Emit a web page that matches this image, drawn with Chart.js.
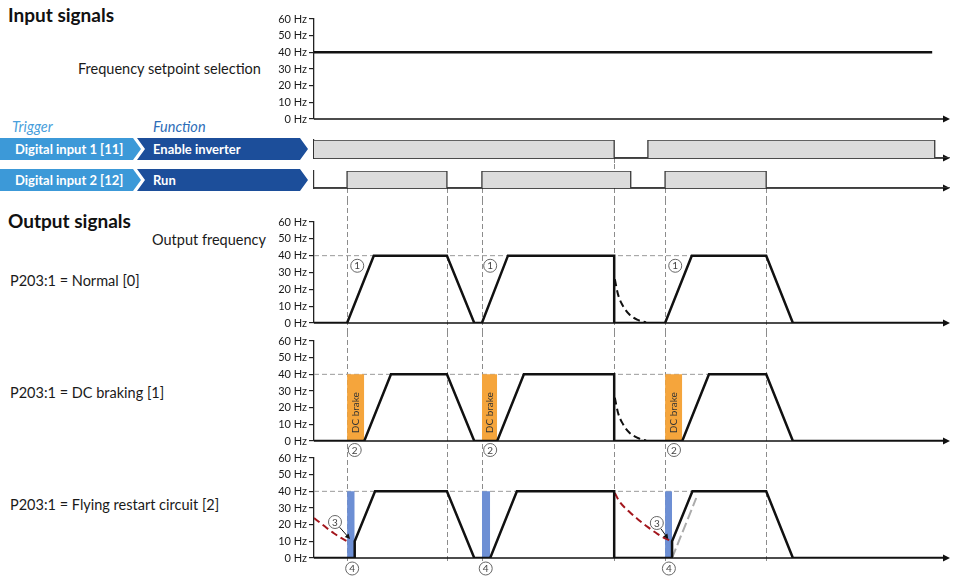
<!DOCTYPE html>
<html>
<head>
<meta charset="utf-8">
<script src="https://cdn.jsdelivr.net/npm/chart.js@4.4.0/dist/chart.umd.min.js"></script>
<style>
body { margin: 0; background: #fff; width: 954px; height: 578px; overflow: hidden; position: relative; font-family: Lato, "Open Sans", sans-serif; }
canvas { position: absolute; left: 0; }
.lbl { position: absolute; white-space: nowrap; color: #1a1a1a; font-size: 14.5px; line-height: 1; transform: translateY(-50%); }
.head { font-weight: bold; font-size: 19px; color: #111; }
.it { font-style: italic; font-size: 14.5px; }
.chev { position: absolute; height: 22px; line-height: 22px; color: #fff; font-weight: bold; font-size: 13px; box-sizing: border-box; white-space: nowrap; }
.light { left: 0; width: 141px; padding-left: 15px; background: #3c99d8; clip-path: polygon(0 0, 133px 0, 141px 11px, 133px 22px, 0 22px); }
.dark { left: 137px; width: 171px; padding-left: 16px; background: #1c4e9a; clip-path: polygon(0 0, 163px 0, 171px 11px, 163px 22px, 0 22px, 8px 11px); }
</style>
</head>
<body>
<div class="lbl head" style="left:8px;top:14px">Input signals</div>
<div class="lbl" style="left:78px;top:69px">Frequency setpoint selection</div>
<div class="lbl it" style="left:12px;top:127px;color:#4a9fdc">Trigger</div>
<div class="lbl it" style="left:153px;top:127px;color:#2d6db8">Function</div>
<div class="chev light" style="top:138px">Digital input 1 [11]</div>
<div class="chev dark" style="top:138px">Enable inverter</div>
<div class="chev light" style="top:169px">Digital input 2 [12]</div>
<div class="chev dark" style="top:169px">Run</div>
<div class="lbl head" style="left:8px;top:220px">Output signals</div>
<div class="lbl" style="left:152px;top:240px">Output frequency</div>
<div class="lbl" style="left:10px;top:281px">P203:1 = Normal [0]</div>
<div class="lbl" style="left:10px;top:393px">P203:1 = DC braking [1]</div>
<div class="lbl" style="left:10px;top:505px">P203:1 = Flying restart circuit [2]</div>

<canvas id="setpoint"></canvas>
<canvas id="di1"></canvas>
<canvas id="di2"></canvas>
<canvas id="normal"></canvas>
<canvas id="dcbrake"></canvas>
<canvas id="flying"></canvas>

<script>
// time runs 0..100 across the plots
const eventTimes = [5.2, 20.9, 26.4, 47.2, 55.2, 71.1];
const enableOffTimes = [47.2];
const hzTickLabels = ['0 Hz', '10 Hz', '20 Hz', '30 Hz', '40 Hz', '50 Hz', '60 Hz'];

const setpointTime = [0, 97.2];
const setpointHz = [40, 40];

const di1Time = [0, 47.2, 52.5, 97.6, 100];
const di1Level = [1, 0, 1, 0, 0];
const di2Time = [0, 5.2, 20.9, 26.4, 49.8, 55.2, 71.1, 100];
const di2Level = [0, 1, 0, 1, 0, 1, 0, 0];

const normalTime = [0, 5.2, 9.4, 20.9, 25.2, 26.4, 30.5, 47.2, 47.2, 55.2, 59.4, 71.1, 75.3, 99.2];
const normalHz = [0, 0, 40, 40, 0, 0, 40, 40, 0, 0, 40, 40, 0, 0];
const coastTime = [47.3, 47.8, 48.6, 49.6, 50.8, 52.2];
const coastHz = [26, 17, 10, 5, 2, 0.3];

const dcTime = [0, 7.9, 12.1, 20.9, 25.2, 28.8, 33.0, 47.2, 47.2, 57.9, 62.1, 71.1, 75.3, 99.2];
const dcHz = [0, 0, 40, 40, 0, 0, 40, 40, 0, 0, 40, 40, 0, 0];
const dcBrakeStart = [5.2, 26.4, 55.2];
const dcBrakeEnd = [7.9, 28.8, 57.9];

const flyTime = [0, 6.4, 6.4, 9.6, 20.9, 25.2, 27.7, 31.9, 47.2, 47.2, 56.3, 56.3, 59.5, 71.1, 75.3, 99.2];
const flyHz = [0, 0, 10, 40, 40, 0, 0, 40, 40, 0, 0, 10, 40, 40, 0, 0];
const searchStart = [5.2, 26.4, 55.2];
const searchEnd = [6.4, 27.7, 56.3];
const motorTime1 = [0, 1, 2, 3, 4, 5.1];
const motorHz1 = [24, 21, 18, 15.2, 12.6, 10.3];
const motorTime2 = [47.3, 48, 49.5, 51, 52.5, 54, 55.2, 56.3];
const motorHz2 = [39, 34, 28, 23, 18.5, 14.5, 11.8, 10];
const rampRefTime = [56.3, 60.1];
const rampRefHz = [0, 36];

const brakeHz = 40;
const ref40End = [59.4, 62.1, 59.5];

const mark1Time = [6.8, 27.7, 56.8];
const mark1Hz = [34, 34, 34];
const mark2Time = [6.4, 27.7, 56.6];
const mark2Hz = [-5.4, -5.4, -5.4];
const mark3Time = [3.3, 53.9];
const mark3Hz = [21.6, 21];
const arrow3Time = [5.66, 55.7];
const arrow3Hz = [11.4, 11.4];
const mark4Time = [6.0, 27.0, 55.8];
const mark4Hz = [-6.3, -6.3, -6.3];

Chart.defaults.font.family = 'Lato, "Open Sans", sans-serif';

function pts(xs, ys) {
    return xs.map((t, i) => ({ x: t, y: ys[i] }));
}

function curve(xs, ys, style) {
    return Object.assign({
        data: pts(xs, ys),
        borderColor: '#111',
        borderWidth: 2.5,
        pointRadius: 0,
        tension: 0,
        fill: false,
        order: 0
    }, style);
}

function blocks(starts, ends, color) {
    return starts.map((s, i) => curve([s, ends[i]], [brakeHz, brakeHz], {
        fill: 'origin',
        backgroundColor: color,
        borderColor: 'rgba(0,0,0,0)',
        borderWidth: 0,
        order: 3
    }));
}

function drawCircle(ctx, x, y, label) {
    ctx.save();
    ctx.beginPath();
    ctx.arc(x, y, 6.5, 0, Math.PI * 2);
    ctx.fillStyle = '#fff';
    ctx.fill();
    ctx.strokeStyle = '#666';
    ctx.lineWidth = 1;
    ctx.stroke();
    ctx.fillStyle = '#444';
    ctx.font = '10px Lato, sans-serif';
    ctx.textAlign = 'center';
    ctx.textBaseline = 'middle';
    ctx.fillText(label, x, y + 0.5);
    ctx.restore();
}

function timingPlugin(cfg) {
    return {
        id: 'timing',
        beforeDatasetsDraw(chart) {
            const { ctx, chartArea } = chart;
            const x = chart.scales.x, y = chart.scales.y;
            ctx.save();
            ctx.strokeStyle = '#8c8c8c';
            ctx.lineWidth = 1;
            ctx.setLineDash([5, 3]);
            eventTimes.forEach(t => {
                const start = enableOffTimes.includes(t) ? 158 : 188;
                const y0 = Math.max(start, cfg.own[0]) - cfg.top;
                const y1 = Math.min(562, cfg.own[1]) - cfg.top;
                if (y1 <= y0) return;
                const px = Math.round(x.getPixelForValue(t)) + 0.5;
                ctx.beginPath();
                ctx.moveTo(px, y0);
                ctx.lineTo(px, y1);
                ctx.stroke();
            });
            ctx.restore();

            // time axis with arrow head
            const base = y.getPixelForValue(0);
            ctx.save();
            ctx.strokeStyle = '#111';
            ctx.fillStyle = '#111';
            ctx.lineWidth = 1.3;
            ctx.beginPath();
            ctx.moveTo(chartArea.left, base);
            ctx.lineTo(chartArea.right - 5, base);
            ctx.stroke();
            ctx.beginPath();
            ctx.moveTo(chartArea.right, base);
            ctx.lineTo(chartArea.right - 7, base - 3.5);
            ctx.lineTo(chartArea.right - 7, base + 3.5);
            ctx.closePath();
            ctx.fill();
            ctx.restore();
        },
        afterDatasetsDraw(chart) {
            const { ctx } = chart;
            const x = chart.scales.x, y = chart.scales.y;
            if (cfg.brakeText) {
                ctx.save();
                ctx.fillStyle = '#333';
                ctx.font = '10px Lato, sans-serif';
                ctx.textAlign = 'center';
                ctx.textBaseline = 'middle';
                dcBrakeStart.forEach((s, i) => {
                    const cx = (x.getPixelForValue(s) + x.getPixelForValue(dcBrakeEnd[i])) / 2;
                    ctx.save();
                    ctx.translate(cx + 0.5, y.getPixelForValue(17));
                    ctx.rotate(-Math.PI / 2);
                    ctx.fillText(cfg.brakeText, 0, 0);
                    ctx.restore();
                });
                ctx.restore();
            }
            (cfg.arrows || []).forEach(a => {
                a.from.forEach((t, i) => {
                    const x0 = x.getPixelForValue(t), y0 = y.getPixelForValue(a.fromHz[i]);
                    const x1 = x.getPixelForValue(a.to[i]), y1 = y.getPixelForValue(a.toHz[i]);
                    const len = Math.hypot(x1 - x0, y1 - y0);
                    const ux = (x1 - x0) / len, uy = (y1 - y0) / len;
                    ctx.save();
                    ctx.strokeStyle = '#111';
                    ctx.fillStyle = '#111';
                    ctx.lineWidth = 1;
                    ctx.beginPath();
                    ctx.moveTo(x0 + ux * 7, y0 + uy * 7);
                    ctx.lineTo(x1 - ux * 3, y1 - uy * 3);
                    ctx.stroke();
                    ctx.beginPath();
                    ctx.moveTo(x1, y1);
                    ctx.lineTo(x1 - ux * 5 - uy * 2.5, y1 - uy * 5 + ux * 2.5);
                    ctx.lineTo(x1 - ux * 5 + uy * 2.5, y1 - uy * 5 - ux * 2.5);
                    ctx.closePath();
                    ctx.fill();
                    ctx.restore();
                });
            });
            (cfg.marks || []).forEach(m => {
                m.time.forEach((t, i) => {
                    drawCircle(ctx, x.getPixelForValue(t), y.getPixelForValue(m.hz[i]), m.label);
                });
            });
        }
    };
}

function makePanel(id, cfg, datasets) {
    const canvas = document.getElementById(id);
    canvas.width = 954;
    canvas.height = cfg.height;
    canvas.style.top = cfg.top + 'px';
    canvas.style.width = '954px';
    canvas.style.height = cfg.height + 'px';
    const yScale = cfg.digital ? {
        min: 0,
        max: 1,
        afterFit: s => { s.width = 314; },
        border: { display: true, color: '#333', width: 1.2 },
        grid: { display: false },
        ticks: { display: false }
    } : {
        min: 0,
        max: 60,
        afterFit: s => { s.width = 314; },
        border: { display: true, color: '#222', width: 1.3 },
        grid: { display: true, drawOnChartArea: false, drawTicks: true, tickLength: 5, color: '#222', lineWidth: 1.2 },
        ticks: {
            stepSize: 10,
            padding: 2,
            color: '#1a1a1a',
            font: { size: 11 },
            callback: (v, i) => hzTickLabels[i]
        }
    };
    return new Chart(canvas, {
        type: 'line',
        data: { datasets: datasets },
        options: {
            responsive: false,
            animation: false,
            devicePixelRatio: 1,
            layout: {
                padding: {
                    top: cfg.areaTop - cfg.top,
                    bottom: cfg.top + cfg.height - cfg.areaBottom,
                    left: 0,
                    right: 4
                }
            },
            plugins: {
                legend: { display: false },
                tooltip: { enabled: false }
            },
            scales: {
                x: { type: 'linear', min: 0, max: 100, display: false },
                y: yScale
            }
        },
        plugins: [timingPlugin(cfg)]
    });
}

function refLine(end) {
    return curve([0, end], [40, 40], { borderColor: '#9a9a9a', borderWidth: 1, borderDash: [5, 3], order: 4 });
}

makePanel('setpoint', { top: 0, height: 130, areaTop: 19, areaBottom: 119, own: [0, 130] }, [
    curve(setpointTime, setpointHz, {})
]);

makePanel('di1', { top: 130, height: 34, areaTop: 140, areaBottom: 158, own: [130, 164], digital: true }, [
    curve(di1Time, di1Level, { stepped: true, fill: 'origin', backgroundColor: '#dcdcdc', borderColor: '#3a3a3a', borderWidth: 1.3 })
]);

makePanel('di2', { top: 164, height: 36, areaTop: 171, areaBottom: 188, own: [164, 200], digital: true }, [
    curve(di2Time, di2Level, { stepped: true, fill: 'origin', backgroundColor: '#dcdcdc', borderColor: '#3a3a3a', borderWidth: 1.3 })
]);

makePanel('normal', {
    top: 200, height: 132, areaTop: 222, areaBottom: 323, own: [200, 332],
    marks: [{ time: mark1Time, hz: mark1Hz, label: '1' }]
}, [
    curve(normalTime, normalHz, {}),
    curve(coastTime, coastHz, { borderWidth: 2, borderDash: [7, 4], cubicInterpolationMode: 'monotone', order: 1 }),
    refLine(ref40End[0])
]);

makePanel('dcbrake', {
    top: 332, height: 125, areaTop: 341, areaBottom: 441, own: [332, 444],
    brakeText: 'DC brake',
    marks: [{ time: mark2Time, hz: mark2Hz, label: '2' }]
}, [
    curve(dcTime, dcHz, {}),
    curve(coastTime, coastHz, { borderWidth: 2, borderDash: [7, 4], cubicInterpolationMode: 'monotone', order: 1 }),
    refLine(ref40End[1])
].concat(blocks(dcBrakeStart, dcBrakeEnd, '#f5a53c')));

makePanel('flying', {
    top: 444, height: 134, areaTop: 458, areaBottom: 558, own: [444, 578],
    marks: [
        { time: mark3Time, hz: mark3Hz, label: '3' },
        { time: mark4Time, hz: mark4Hz, label: '4' }
    ],
    arrows: [{ from: mark3Time, fromHz: mark3Hz, to: arrow3Time, toHz: arrow3Hz }]
}, [
    curve(flyTime, flyHz, {}),
    curve(motorTime1, motorHz1, { borderColor: '#a3161d', borderWidth: 2, borderDash: [7, 4], cubicInterpolationMode: 'monotone', order: 1 }),
    curve(motorTime2, motorHz2, { borderColor: '#a3161d', borderWidth: 2, borderDash: [7, 4], cubicInterpolationMode: 'monotone', order: 1 }),
    curve(rampRefTime, rampRefHz, { borderColor: '#ababab', borderWidth: 2, borderDash: [10, 4], order: 2 }),
    refLine(ref40End[2])
].concat(blocks(searchStart, searchEnd, '#6d8fd4')));
</script>
</body>
</html>
